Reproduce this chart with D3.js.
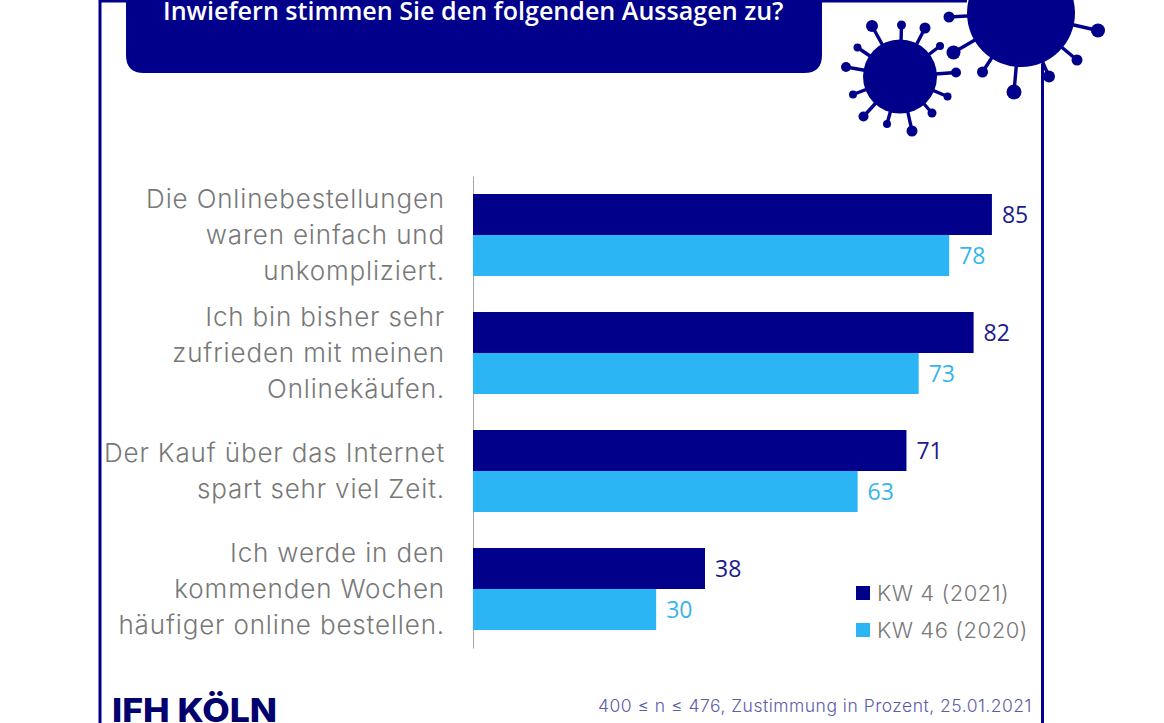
<!DOCTYPE html>
<html>
<head>
<meta charset="utf-8">
<script src="https://cdn.jsdelivr.net/npm/d3@7"></script>
<style>
    html, body { margin: 0; padding: 0; background: #fff; overflow: hidden; }
    svg { display: block; }
    .cat { font-family: Inter, sans-serif; font-weight: 300; font-size: 26px; fill: #787878; text-anchor: end; letter-spacing: 0.85px; }
    .val { font-family: "Open Sans", sans-serif; font-size: 23px; }
    .leg { font-family: Inter, sans-serif; font-weight: 300; font-size: 22px; fill: #787878; letter-spacing: 0.55px; }
</style>
</head>
<body>
<div class="visualisation"></div>
<script>
const svgWidth = 1164;
const svgHeight = 723;
const navy = '#00008b';
const sky = '#2bb5f5';

const categories = ['a', 'b', 'c', 'd'];
const labelLines = [
    ['Die Onlinebestellungen', 'waren einfach und', 'unkompliziert.'],
    ['Ich bin bisher sehr', 'zufrieden mit meinen', 'Onlinekäufen.'],
    ['Der Kauf über das Internet', 'spart sehr viel Zeit.'],
    ['Ich werde in den', 'kommenden Wochen', 'häufiger online bestellen.'],
];
const kw4 = [85, 82, 71, 38];
const kw46 = [78, 73, 63, 30];
const seriesNames = ['KW 4 (2021)', 'KW 46 (2020)'];

const svg = d3.select('.visualisation').append('svg')
    .attr('width', svgWidth)
    .attr('height', svgHeight)
    .attr('viewBox', `0 0 ${svgWidth} ${svgHeight}`);

const xScale = d3.scaleLinear().domain([0, 100]).range([473, 1083.5]);
const yScale = d3.scaleBand().domain(categories).range([176, 648]);
const seriesScale = d3.scaleBand().domain(['kw4', 'kw46']).range([18, 100]);

// outer frame
svg.append('path')
    .attr('d', 'M100 723V1H967M1042.5 64V723')
    .attr('fill', 'none')
    .attr('stroke', navy)
    .attr('stroke-width', 3);

// title box, top is cut off by the crop
svg.append('path')
    .attr('d', 'M126 -5H822V55Q822 73 804 73H144Q126 73 126 55Z')
    .attr('fill', navy);
svg.append('text')
    .attr('x', 163)
    .attr('y', 20)
    .attr('fill', '#fff')
    .attr('font-family', '"Open Sans", sans-serif')
    .attr('font-weight', 600)
    .attr('font-size', 25.1)
    .text('Inwiefern stimmen Sie den folgenden Aussagen zu?');

// viruses
function virus(cx, cy, r, spikes) {
    const g = svg.append('g').attr('fill', navy).attr('stroke', navy);
    g.append('circle').attr('cx', cx).attr('cy', cy).attr('r', r).attr('stroke', 'none');
    spikes.forEach(([tx, ty, size]) => {
        g.append('line').attr('x1', cx).attr('y1', cy).attr('x2', tx).attr('y2', ty).attr('stroke-width', 3.4);
        g.append('circle').attr('cx', tx).attr('cy', ty).attr('r', size).attr('stroke', 'none');
    });
}
virus(900, 76.5, 37, [
    [872, 26, 6], [901.5, 25, 4.5], [925, 28, 5.5], [940, 46, 4], [956, 72.5, 5], [947.5, 96.5, 4],
    [932, 113, 4.5], [912, 131, 5.5], [887, 124, 4], [863.5, 116.5, 5], [853, 94.5, 4], [846, 67, 5], [857.5, 47.5, 4],
]);
virus(1021, 13, 54, [
    [949, 17, 5.5], [953.5, 52.5, 7], [982.5, 72, 5.5], [1014, 92, 7.5], [1049, 76.5, 6], [1077, 60, 5.5], [1098, 30.5, 7],
]);

// axis line with no ticks, the labels are drawn by hand because they wrap
svg.append('g')
    .attr('transform', `translate(${xScale(0)},0)`)
    .call(d3.axisLeft(yScale).tickSize(0).tickFormat(''))
    .call((g) => g.select('.domain').attr('stroke', '#a6a6a6').attr('stroke-width', 1));

const group = svg.selectAll('g.item')
    .data(categories)
    .join('g')
    .attr('class', 'item')
    .attr('transform', (d) => `translate(0,${yScale(d)})`);

// bars
group.append('rect')
    .attr('x', xScale(0))
    .attr('y', seriesScale('kw4'))
    .attr('width', (d, i) => xScale(kw4[i]) - xScale(0))
    .attr('height', seriesScale.bandwidth())
    .attr('fill', navy);
group.append('rect')
    .attr('x', xScale(0))
    .attr('y', seriesScale('kw46'))
    .attr('width', (d, i) => xScale(kw46[i]) - xScale(0))
    .attr('height', seriesScale.bandwidth())
    .attr('fill', sky);

// value labels
group.append('text')
    .attr('class', 'val')
    .attr('x', (d, i) => xScale(kw4[i]) + 10)
    .attr('y', seriesScale('kw4') + 29)
    .attr('fill', '#1a1a8c')
    .attr('font-weight', 500)
    .text((d, i) => kw4[i]);
group.append('text')
    .attr('class', 'val')
    .attr('x', (d, i) => xScale(kw46[i]) + 10)
    .attr('y', seriesScale('kw46') + 29)
    .attr('fill', '#35b5ee')
    .attr('font-weight', 400)
    .text((d, i) => kw46[i]);

// category labels
group.each(function (d, i) {
    const lines = labelLines[i];
    const text = d3.select(this).append('text').attr('class', 'cat');
    const top = 59 - (lines.length - 1) * 18 + 9;
    lines.forEach((line, j) => {
        text.append('tspan').attr('x', 445).attr('y', top + j * 36).text(line);
    });
});

// legend
const legend = svg.selectAll('g.leg-item')
    .data(seriesNames)
    .join('g')
    .attr('class', 'leg-item')
    .attr('transform', (d, i) => `translate(856,${586 + i * 37})`);
legend.append('rect')
    .attr('width', 14)
    .attr('height', 14)
    .attr('fill', (d, i) => (i === 0 ? navy : sky));
legend.append('text')
    .attr('class', 'leg')
    .attr('x', 21)
    .attr('y', 15)
    .text((d) => d);

// source note and logo
svg.append('text')
    .attr('x', 1032)
    .attr('y', 712)
    .attr('text-anchor', 'end')
    .attr('font-family', 'Inter, sans-serif')
    .attr('font-size', 17.5)
    .attr('font-weight', 300)
    .attr('letter-spacing', 0.5)
    .attr('fill', '#5c5ca8')
    .text('400 ≤ n ≤ 476, Zustimmung in Prozent, 25.01.2021');
svg.append('text')
    .attr('x', 112)
    .attr('y', 722)
    .attr('font-family', 'Inter, sans-serif')
    .attr('font-weight', 800)
    .attr('font-size', 33)
    .attr('fill', '#00006e')
    .attr('textLength', 165)
    .attr('lengthAdjust', 'spacingAndGlyphs')
    .text('IFH KÖLN');
</script>
</body>
</html>
